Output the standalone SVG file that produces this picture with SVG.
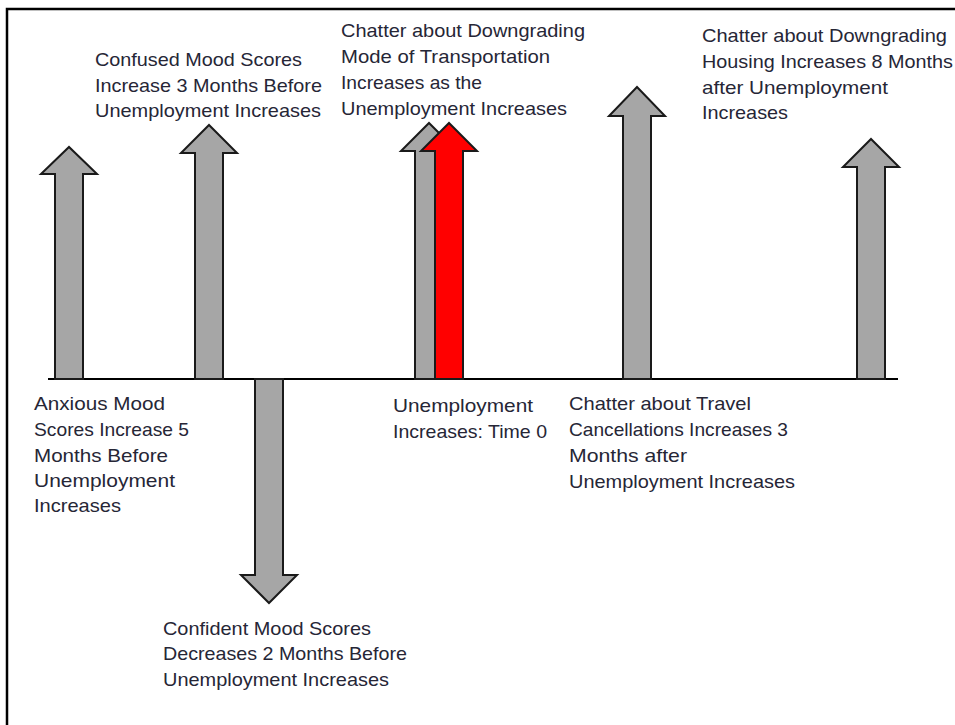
<svg xmlns="http://www.w3.org/2000/svg" width="955" height="725" viewBox="0 0 955 725">
<style>
.arr{fill:#a6a6a6;stroke:#1a1a1a;stroke-width:2;stroke-linejoin:miter}
.red{fill:#ff0000;stroke:#1a1a1a;stroke-width:2}
.t{font-family:"Liberation Sans",Arial,sans-serif;font-size:19px;fill:#262636}
.frame{stroke:#000;stroke-width:2.5;fill:none}
</style>
<rect width="955" height="725" fill="#ffffff"/>
<path class="frame" d="M7,725 V9 H955"/>
<g id="connectors">
<line x1="48" y1="379" x2="898" y2="379" stroke="#000" stroke-width="2"/>
</g>
<g id="anxious">
<polygon class="arr" points="55,379 55,174 41,174 69,147 97,174 83,174 83,379"/>
<text class="t" x="34" y="410" textLength="131" lengthAdjust="spacingAndGlyphs">Anxious Mood</text>
<text class="t" x="34" y="436" textLength="155" lengthAdjust="spacingAndGlyphs">Scores Increase 5</text>
<text class="t" x="34" y="462" textLength="134" lengthAdjust="spacingAndGlyphs">Months Before</text>
<text class="t" x="34" y="487" textLength="141" lengthAdjust="spacingAndGlyphs">Unemployment</text>
<text class="t" x="34" y="512" textLength="87" lengthAdjust="spacingAndGlyphs">Increases</text>
</g>
<g id="confused">
<polygon class="arr" points="195,379 195,153 181,153 209,125 237,153 223,153 223,379"/>
<text class="t" x="95" y="66" textLength="207" lengthAdjust="spacingAndGlyphs">Confused Mood Scores</text>
<text class="t" x="95" y="92" textLength="227" lengthAdjust="spacingAndGlyphs">Increase 3 Months Before</text>
<text class="t" x="95" y="117" textLength="226" lengthAdjust="spacingAndGlyphs">Unemployment Increases</text>
</g>
<g id="confident">
<polygon class="arr" points="255,379 255,575 241,575 269,603 297,575 283,575 283,379"/>
<text class="t" x="163" y="635" textLength="208" lengthAdjust="spacingAndGlyphs">Confident Mood Scores</text>
<text class="t" x="163" y="660" textLength="244" lengthAdjust="spacingAndGlyphs">Decreases 2 Months Before</text>
<text class="t" x="163" y="686" textLength="226" lengthAdjust="spacingAndGlyphs">Unemployment Increases</text>
</g>
<g id="transportation">
<polygon class="arr" points="415,379 415,151 401,151 429,123 457,151 443,151 443,379"/>
<text class="t" x="341" y="37" textLength="244" lengthAdjust="spacingAndGlyphs">Chatter about Downgrading</text>
<text class="t" x="341" y="63" textLength="209" lengthAdjust="spacingAndGlyphs">Mode of Transportation</text>
<text class="t" x="341" y="89" textLength="141" lengthAdjust="spacingAndGlyphs">Increases as the</text>
<text class="t" x="341" y="115" textLength="226" lengthAdjust="spacingAndGlyphs">Unemployment Increases</text>
</g>
<g id="unemployment">
<polygon class="red" points="435,379 435,151 421,151 449,123 477,151 463,151 463,379"/>
<text class="t" x="393" y="412" textLength="140" lengthAdjust="spacingAndGlyphs">Unemployment</text>
<text class="t" x="393" y="438" textLength="154" lengthAdjust="spacingAndGlyphs">Increases: Time 0</text>
</g>
<g id="travel">
<polygon class="arr" points="623,379 623,116 609,116 637,87 665,116 651,116 651,379"/>
<text class="t" x="569" y="410" textLength="182" lengthAdjust="spacingAndGlyphs">Chatter about Travel</text>
<text class="t" x="569" y="436" textLength="219" lengthAdjust="spacingAndGlyphs">Cancellations Increases 3</text>
<text class="t" x="569" y="462" textLength="118" lengthAdjust="spacingAndGlyphs">Months after</text>
<text class="t" x="569" y="488" textLength="226" lengthAdjust="spacingAndGlyphs">Unemployment Increases</text>
</g>
<g id="housing">
<polygon class="arr" points="857,379 857,167 843,167 871,139 899,167 885,167 885,379"/>
<text class="t" x="702" y="42" textLength="245" lengthAdjust="spacingAndGlyphs">Chatter about Downgrading</text>
<text class="t" x="702" y="68" textLength="251" lengthAdjust="spacingAndGlyphs">Housing Increases 8 Months</text>
<text class="t" x="702" y="94" textLength="186" lengthAdjust="spacingAndGlyphs">after Unemployment</text>
<text class="t" x="702" y="119" textLength="86" lengthAdjust="spacingAndGlyphs">Increases</text>
</g>
</svg>
